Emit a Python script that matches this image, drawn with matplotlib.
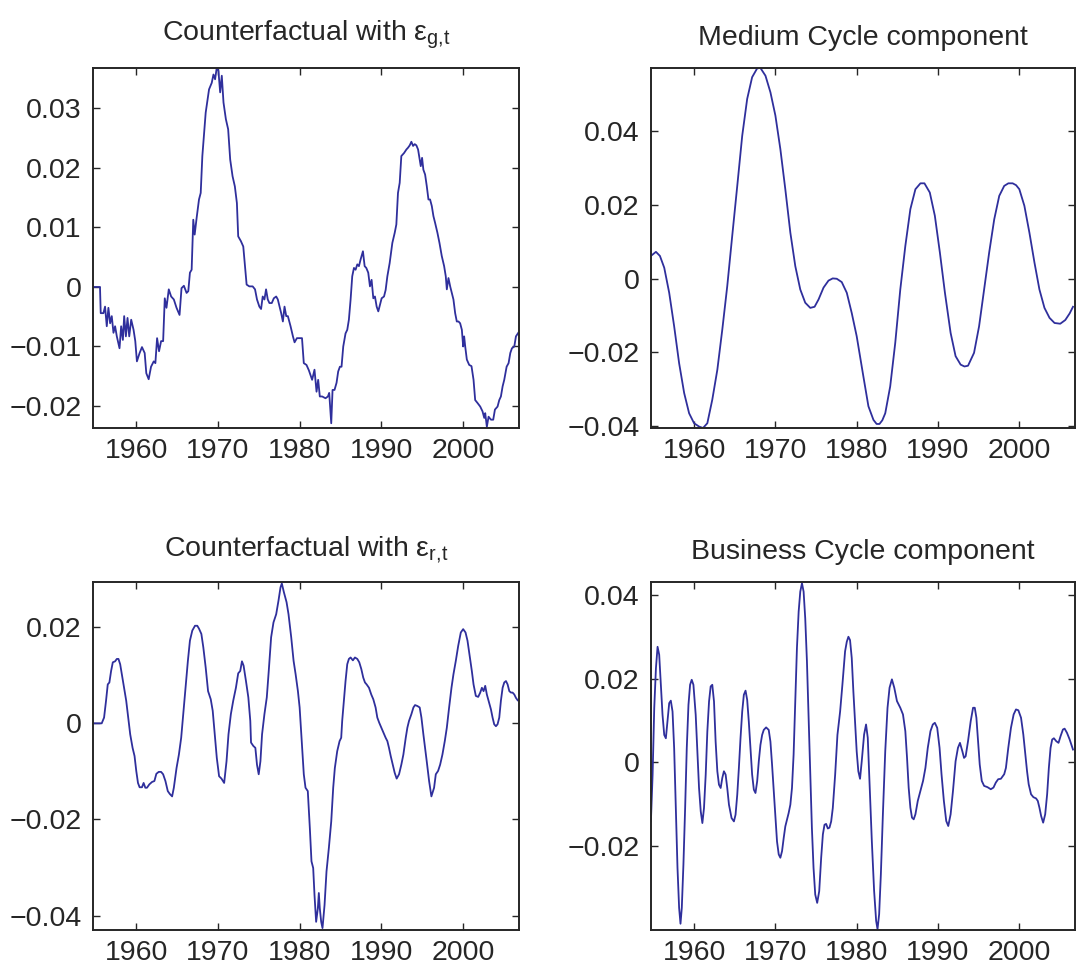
import matplotlib.pyplot as plt
from matplotlib.ticker import FuncFormatter

plt.rcParams["font.family"] = ["Liberation Sans", "DejaVu Sans"]
plt.rcParams["mathtext.fontset"] = "custom"
plt.rcParams["mathtext.rm"] = "Liberation Sans"
plt.rcParams["mathtext.it"] = "Liberation Sans:italic"

# ── data (quarterly-ish readings, year -> deviation) ─────────────────────

gov_years = [
    1954.66, 1955.56, 1955.65, 1955.98, 1956.18, 1956.39, 1956.59, 1956.80, 1957.00, 1957.21,
    1957.41, 1957.62, 1957.95, 1958.15, 1958.36, 1958.52, 1958.73, 1958.93, 1959.14, 1959.38,
    1959.67, 1959.88, 1960.08, 1960.41, 1960.70, 1961.03, 1961.23, 1961.52, 1961.81, 1962.14,
    1962.34, 1962.55, 1962.79, 1963.04, 1963.29, 1963.49, 1963.70, 1963.98, 1964.27, 1964.60,
    1964.93, 1965.30, 1965.54, 1965.83, 1966.16, 1966.37, 1966.57, 1966.78, 1966.98, 1967.15,
    1967.39, 1967.68, 1967.89, 1968.09, 1968.50, 1968.91, 1969.24, 1969.45, 1969.65, 1969.86,
    1970.06, 1970.27, 1970.47, 1970.68, 1970.97, 1971.25, 1971.50, 1971.79, 1972.07, 1972.32,
    1972.48, 1972.81, 1973.10, 1973.31, 1973.51, 1973.84, 1974.25, 1974.54, 1974.78, 1975.07,
    1975.28, 1975.48, 1975.69, 1975.89, 1976.10, 1976.30, 1976.59, 1976.84, 1977.13, 1977.33,
    1977.54, 1977.74, 1977.95, 1978.15, 1978.36, 1978.56, 1978.89, 1979.18, 1979.38, 1979.67,
    1980.00, 1980.29,
    1980.51, 1980.84, 1981.13, 1981.33, 1981.53, 1981.82, 1982.07, 1982.27, 1982.47, 1982.76,
    1983.17, 1983.46, 1983.62, 1983.78, 1983.87, 1984.03, 1984.27, 1984.52, 1984.72, 1984.93,
    1985.13, 1985.34, 1985.62, 1985.83, 1986.03, 1986.24, 1986.44, 1986.65, 1986.85, 1987.06,
    1987.26, 1987.46, 1987.75, 1987.96, 1988.16, 1988.40, 1988.61, 1988.81, 1989.02, 1989.22,
    1989.43, 1989.63, 1989.84, 1990.04, 1990.33, 1990.53, 1990.74, 1991.02, 1991.35, 1991.64,
    1991.84, 1992.04, 1992.25, 1992.45, 1992.78, 1993.07, 1993.27, 1993.48, 1993.68, 1993.89,
    1994.09, 1994.29, 1994.50, 1994.70, 1994.83, 1994.99, 1995.15, 1995.36, 1995.56, 1995.77,
    1995.97, 1996.18, 1996.38, 1996.58, 1996.87, 1997.12, 1997.40, 1997.69, 1997.89, 1998.02,
    1998.22, 1998.43, 1998.63, 1998.83, 1999.04, 1999.24, 1999.45, 1999.65, 1999.86, 2000.02,
    2000.14, 2000.27, 2000.47, 2000.76, 2001.04, 2001.29, 2001.49, 2001.78, 2002.11, 2002.39,
    2002.60, 2002.72, 2002.92, 2003.13, 2003.42, 2003.70, 2003.91, 2004.23, 2004.44, 2004.64,
    2004.85, 2005.05, 2005.34, 2005.58, 2005.79, 2005.99, 2006.28, 2006.48, 2006.77,
]
gov_values = [
    0.0, 0.0, -0.0044, -0.0044, -0.0033, -0.0066, -0.0035, -0.0061, -0.0049, -0.0077,
    -0.0066, -0.0083, -0.0103, -0.0066, -0.0089, -0.0049, -0.0083, -0.0052, -0.0083, -0.0055,
    -0.0072, -0.0091, -0.0125, -0.0111, -0.0101, -0.0111, -0.0145, -0.0155, -0.0134, -0.0125,
    -0.0128, -0.0086, -0.0108, -0.0091, -0.0091, -0.0019, -0.0035, -0.0004, -0.0016, -0.0021,
    -0.0035, -0.0047, -0.0002, 0.0002, -0.0010, -0.0007, 0.0024, 0.0029, 0.0113, 0.0088,
    0.0116, 0.0147, 0.0158, 0.0220, 0.0293, 0.0332, 0.0343, 0.0357, 0.0349, 0.0369,
    0.0363, 0.0327, 0.0355, 0.0310, 0.0282, 0.0265, 0.0214, 0.0186, 0.0169, 0.0141,
    0.0085, 0.0077, 0.0068, 0.0035, 0.0004, 0.0001, 0.0001, -0.0004, -0.0021, -0.0033,
    -0.0037, -0.0016, -0.0021, -0.0004, -0.0021, -0.0027, -0.0027, -0.0019, -0.0016, -0.0021,
    -0.0033, -0.0044, -0.0058, -0.0033, -0.0049, -0.0049, -0.0066, -0.0083, -0.0093, -0.0086,
    -0.0086, -0.0086,
    -0.0128, -0.0131, -0.0140, -0.0148, -0.0156, -0.0139, -0.0176, -0.0156, -0.0184, -0.0184,
    -0.0187, -0.0184, -0.0178, -0.0212, -0.0229, -0.0173, -0.0173, -0.0161, -0.0142, -0.0134,
    -0.0134, -0.0100, -0.0078, -0.0072, -0.0055, -0.0021, 0.0018, 0.0032, 0.0029, 0.0038,
    0.0035, 0.0046, 0.0060, 0.0035, 0.0032, 0.0024, 0.0001, 0.0012, -0.0019, -0.0016,
    -0.0033, -0.0041, -0.0030, -0.0019, -0.0016, -0.0005, 0.0018, 0.0040, 0.0074, 0.0091,
    0.0105, 0.0158, 0.0175, 0.0220, 0.0225, 0.0231, 0.0234, 0.0238, 0.0244, 0.0237,
    0.0240, 0.0238, 0.0231, 0.0214, 0.0203, 0.0217, 0.0197, 0.0189, 0.0170, 0.0147,
    0.0147, 0.0136, 0.0119, 0.0108, 0.0091, 0.0074, 0.0052, 0.0035, 0.0018, -0.0004,
    0.0015, 0.0001, -0.0010, -0.0021, -0.0044, -0.0058, -0.0058, -0.0061, -0.0072, -0.0100,
    -0.0083, -0.0100, -0.0122, -0.0131, -0.0133, -0.0156, -0.0190, -0.0195, -0.0201, -0.0209,
    -0.0220, -0.0212, -0.0235, -0.0218, -0.0223, -0.0223, -0.0206, -0.0201, -0.0190, -0.0184,
    -0.0167, -0.0156, -0.0134, -0.0128, -0.0111, -0.0103, -0.0100, -0.0083, -0.0077,
]

medium_years = [
    1954.69, 1955.31, 1955.80, 1956.33, 1956.94, 1957.55, 1958.16, 1958.78, 1959.39, 1960.00,
    1960.61, 1961.10, 1961.63, 1962.24, 1962.86, 1963.47, 1964.08, 1964.69, 1965.31, 1965.92,
    1966.53, 1967.14, 1967.76, 1968.16, 1968.78, 1969.39, 1970.00, 1970.61, 1971.22, 1971.84,
    1972.45, 1973.06, 1973.67, 1974.29, 1974.82, 1975.31, 1975.92, 1976.53, 1977.05, 1977.55,
    1978.16, 1978.78, 1979.39, 1980.00,
    1980.82, 1981.44, 1982.06, 1982.45, 1982.80, 1983.15, 1983.51, 1984.12, 1984.74, 1985.36,
    1985.98, 1986.60, 1987.22, 1987.84, 1988.33, 1988.99, 1989.61, 1990.23, 1990.85, 1991.55,
    1992.16, 1992.78, 1993.25, 1993.69, 1994.43, 1995.05, 1995.67, 1996.29, 1996.91, 1997.53,
    1998.14, 1998.65, 1999.18, 1999.60, 2000.00, 2000.62, 2001.24, 2001.86, 2002.47, 2003.09,
    2003.71, 2004.33, 2005.03, 2005.65, 2006.19, 2006.60,
]
medium_values = [
    0.0062, 0.0073, 0.0062, 0.0030, -0.0038, -0.0129, -0.0229, -0.0310, -0.0365, -0.0392,
    -0.0401, -0.0405, -0.0392, -0.0328, -0.0247, -0.0138, -0.0020, 0.0116, 0.0252, 0.0388,
    0.0488, 0.0547, 0.0571, 0.0572, 0.0551, 0.0506, 0.0443, 0.0352, 0.0243, 0.0125,
    0.0034, -0.0029, -0.0065, -0.0079, -0.0076, -0.0056, -0.0024, -0.0005, 0.0001, 0.0000,
    -0.0009, -0.0038, -0.0093, -0.0156,
    -0.0265, -0.0346, -0.0383, -0.0394, -0.0394, -0.0384, -0.0365, -0.0292, -0.0174, -0.0029,
    0.0089, 0.0189, 0.0243, 0.0259, 0.0259, 0.0234, 0.0171, 0.0071, -0.0038, -0.0147,
    -0.0210, -0.0233, -0.0238, -0.0236, -0.0201, -0.0129, -0.0029, 0.0071, 0.0161, 0.0225,
    0.0252, 0.0259, 0.0259, 0.0254, 0.0243, 0.0198, 0.0125, 0.0044, -0.0029, -0.0079,
    -0.0106, -0.0120, -0.0122, -0.0112, -0.0094, -0.0076,
]

rate_years = [
    1954.66, 1955.77, 1956.06, 1956.30, 1956.51, 1956.71, 1956.92, 1957.13, 1957.41, 1957.62,
    1957.82, 1958.03, 1958.23, 1958.44, 1958.77, 1959.06, 1959.26, 1959.55, 1959.79, 1960.00,
    1960.21, 1960.41, 1960.70, 1960.90, 1961.11, 1961.31, 1961.60, 1961.93, 1962.22, 1962.46,
    1962.75, 1963.04, 1963.29, 1963.57, 1963.86, 1964.11, 1964.39, 1964.60, 1964.93, 1965.22,
    1965.50, 1965.75, 1966.04, 1966.32, 1966.57, 1966.86, 1967.19, 1967.47, 1967.68, 1967.97,
    1968.21, 1968.50, 1968.79, 1969.12, 1969.36, 1969.61, 1969.86, 1970.14, 1970.43, 1970.76,
    1971.05, 1971.29, 1971.58, 1971.87, 1972.20, 1972.48, 1972.73, 1972.94, 1973.14, 1973.43,
    1973.72, 1973.96, 1974.05, 1974.33, 1974.58, 1974.78, 1974.99, 1975.20, 1975.40, 1975.69,
    1975.98, 1976.22, 1976.51, 1976.80, 1977.13, 1977.41, 1977.66, 1977.82, 1978.07, 1978.40,
    1978.64, 1978.97, 1979.26, 1979.51, 1979.79, 1980.00,
    1980.51, 1980.72, 1981.00, 1981.25, 1981.45, 1981.66, 1981.82, 1982.02, 1982.23, 1982.35,
    1982.47, 1982.64, 1982.80, 1983.05, 1983.29, 1983.58, 1983.87, 1984.11, 1984.31, 1984.60,
    1984.89, 1985.09, 1985.21, 1985.42, 1985.62, 1985.83, 1986.03, 1986.24, 1986.52, 1986.77,
    1987.06, 1987.30, 1987.55, 1987.79, 1988.00, 1988.20, 1988.49, 1988.77, 1989.02, 1989.30,
    1989.51, 1989.75, 1990.00, 1990.25, 1990.53, 1990.74, 1990.94, 1991.15, 1991.35, 1991.64,
    1991.88, 1992.17, 1992.45, 1992.70, 1992.99, 1993.19, 1993.39, 1993.68, 1993.93, 1994.13,
    1994.42, 1994.70, 1994.91, 1995.15, 1995.36, 1995.56, 1995.85, 1996.13, 1996.46, 1996.67,
    1996.95, 1997.20, 1997.48, 1997.77, 1998.02, 1998.30, 1998.59, 1998.83, 1999.12, 1999.41,
    1999.73, 2000.02, 2000.31, 2000.55, 2000.84, 2001.08, 2001.29, 2001.57, 2001.86, 2002.11,
    2002.31, 2002.52, 2002.72, 2002.92, 2003.13, 2003.42, 2003.62, 2003.82, 2004.03, 2004.23,
    2004.44, 2004.64, 2004.85, 2005.05, 2005.26, 2005.46, 2005.67, 2005.87, 2006.07, 2006.28,
    2006.48, 2006.69,
]
rate_values = [
    0.0, 0.0, 0.0012, 0.0047, 0.0081, 0.0085, 0.0109, 0.0127, 0.0129, 0.0134,
    0.0134, 0.0123, 0.0102, 0.0081, 0.0047, 0.0005, -0.0023, -0.0051, -0.0068, -0.0099,
    -0.0124, -0.0133, -0.0133, -0.0124, -0.0134, -0.0134, -0.0127, -0.0122, -0.0120, -0.0105,
    -0.0101, -0.0101, -0.0106, -0.0120, -0.0141, -0.0147, -0.0152, -0.0134, -0.0093, -0.0065,
    -0.0030, 0.0019, 0.0074, 0.0130, 0.0172, 0.0193, 0.0203, 0.0203, 0.0197, 0.0186,
    0.0158, 0.0116, 0.0067, 0.0050, 0.0026, -0.0023, -0.0072, -0.0110, -0.0115, -0.0124,
    -0.0079, -0.0023, 0.0019, 0.0047, 0.0074, 0.0104, 0.0109, 0.0129, 0.0120, 0.0088,
    0.0054, 0.0005, -0.0040, -0.0047, -0.0051, -0.0086, -0.0106, -0.0079, -0.0023, 0.0019,
    0.0054, 0.0109, 0.0179, 0.0210, 0.0227, 0.0255, 0.0283, 0.0291, 0.0273, 0.0252,
    0.0227, 0.0179, 0.0130, 0.0102, 0.0067, 0.0033,
    -0.0106, -0.0134, -0.0141, -0.0218, -0.0287, -0.0301, -0.0357, -0.0413, -0.0385, -0.0353,
    -0.0385, -0.0413, -0.0426, -0.0378, -0.0308, -0.0259, -0.0204, -0.0134, -0.0093, -0.0058,
    -0.0037, -0.0030, 0.0005, 0.0047, 0.0088, 0.0123, 0.0134, 0.0137, 0.0131, 0.0137,
    0.0134, 0.0127, 0.0113, 0.0095, 0.0085, 0.0081, 0.0074, 0.0060, 0.0050, 0.0033,
    0.0012, 0.0001, -0.0009, -0.0019, -0.0030, -0.0037, -0.0051, -0.0068, -0.0082, -0.0103,
    -0.0115, -0.0106, -0.0086, -0.0065, -0.0030, -0.0009, 0.0005, 0.0019, 0.0033, 0.0038,
    0.0036, 0.0033, 0.0012, -0.0023, -0.0051, -0.0079, -0.0120, -0.0152, -0.0134, -0.0106,
    -0.0099, -0.0086, -0.0065, -0.0037, -0.0009, 0.0033, 0.0074, 0.0102, 0.0130, 0.0161,
    0.0189, 0.0196, 0.0189, 0.0172, 0.0137, 0.0109, 0.0081, 0.0057, 0.0055, 0.0064,
    0.0074, 0.0067, 0.0078, 0.0060, 0.0047, 0.0029, 0.0012, -0.0002, -0.0006, -0.0002,
    0.0012, 0.0047, 0.0074, 0.0085, 0.0088, 0.0081, 0.0067, 0.0064, 0.0064, 0.0060,
    0.0053, 0.0048,
]

business_years = [
    1954.69, 1954.90, 1955.10, 1955.31, 1955.51, 1955.71, 1955.92, 1956.12, 1956.33, 1956.53,
    1956.73, 1956.94, 1957.14, 1957.35, 1957.55, 1957.76, 1957.96, 1958.16, 1958.33, 1958.49,
    1958.69, 1958.90, 1959.10, 1959.31, 1959.51, 1959.71, 1959.92, 1960.20, 1960.41, 1960.61,
    1960.82, 1961.02, 1961.22, 1961.43, 1961.63, 1961.84, 1962.04, 1962.24, 1962.45, 1962.65,
    1962.86, 1963.06, 1963.27, 1963.47, 1963.67, 1963.88, 1964.08, 1964.29, 1964.61, 1964.90,
    1965.10, 1965.31, 1965.51, 1965.71, 1965.92, 1966.12, 1966.33, 1966.53, 1966.73, 1966.94,
    1967.14, 1967.35, 1967.55, 1967.76, 1967.96, 1968.16, 1968.37, 1968.57, 1968.86, 1969.18,
    1969.39, 1969.59, 1969.80, 1970.00, 1970.20, 1970.41, 1970.61, 1970.82, 1971.02, 1971.22,
    1971.43, 1971.63, 1971.84, 1972.04, 1972.24, 1972.45, 1972.65, 1972.86, 1973.06, 1973.27,
    1973.47, 1973.67, 1973.88, 1974.08, 1974.29, 1974.49, 1974.69, 1974.90, 1975.14, 1975.39,
    1975.63, 1975.84, 1976.04, 1976.24, 1976.45, 1976.65, 1976.86, 1977.06, 1977.35, 1977.63,
    1977.96, 1978.24, 1978.57, 1978.78, 1978.98, 1979.18, 1979.39, 1979.59, 1979.80, 1980.00,
    1980.20, 1980.41,
    1980.62, 1980.91, 1981.15, 1981.36, 1981.57, 1981.86, 1982.14, 1982.39, 1982.56, 1982.76,
    1982.97, 1983.22, 1983.51, 1983.79, 1984.04, 1984.33, 1984.62, 1984.95, 1985.36, 1985.69,
    1985.98, 1986.19, 1986.39, 1986.60, 1986.80, 1987.01, 1987.22, 1987.51, 1987.84, 1988.16,
    1988.45, 1988.74, 1989.07, 1989.36, 1989.61, 1989.90, 1990.19, 1990.43, 1990.72, 1991.01,
    1991.26, 1991.55, 1991.84, 1992.16, 1992.45, 1992.70, 1992.99, 1993.20, 1993.40, 1993.69,
    1994.02, 1994.31, 1994.52, 1994.72, 1994.93, 1995.13, 1995.38, 1995.67, 1996.08, 1996.49,
    1996.82, 1997.11, 1997.40, 1997.73, 1998.14, 1998.35, 1998.64, 1998.97, 1999.30, 1999.59,
    1999.88, 2000.21, 2000.49, 2000.70, 2000.95, 2001.15, 2001.44, 2001.73, 2002.06, 2002.27,
    2002.47, 2002.68, 2002.93, 2003.18, 2003.42, 2003.63, 2003.84, 2004.04, 2004.25, 2004.54,
    2004.82, 2005.07, 2005.36, 2005.57, 2005.86, 2006.19, 2006.47, 2006.60,
]
business_values = [
    -0.0142, -0.0030, 0.0129, 0.0225, 0.0276, 0.0257, 0.0185, 0.0113, 0.0065, 0.0057,
    0.0097, 0.0141, 0.0147, 0.0121, 0.0033, -0.0110, -0.0253, -0.0349, -0.0387, -0.0349,
    -0.0245, -0.0110, 0.0033, 0.0137, 0.0185, 0.0197, 0.0185, 0.0113, 0.0025, -0.0062,
    -0.0118, -0.0146, -0.0110, -0.0030, 0.0073, 0.0145, 0.0181, 0.0185, 0.0145, 0.0049,
    -0.0022, -0.0054, -0.0062, -0.0038, -0.0022, -0.0030, -0.0062, -0.0102, -0.0134, -0.0142,
    -0.0126, -0.0078, -0.0014, 0.0057, 0.0121, 0.0161, 0.0171, 0.0149, 0.0097, 0.0033,
    -0.0030, -0.0066, -0.0074, -0.0046, 0.0002, 0.0041, 0.0065, 0.0077, 0.0083, 0.0077,
    0.0049, -0.0006, -0.0070, -0.0134, -0.0190, -0.0221, -0.0229, -0.0213, -0.0182, -0.0154,
    -0.0138, -0.0122, -0.0102, -0.0062, 0.0018, 0.0145, 0.0273, 0.0360, 0.0408, 0.0428,
    0.0408, 0.0344, 0.0241, 0.0113, -0.0030, -0.0158, -0.0253, -0.0317, -0.0337, -0.0309,
    -0.0229, -0.0173, -0.0150, -0.0148, -0.0159, -0.0157, -0.0142, -0.0110, -0.0030, 0.0065,
    0.0121, 0.0185, 0.0265, 0.0288, 0.0300, 0.0292, 0.0249, 0.0169, 0.0097, 0.0025,
    -0.0022, -0.0040,
    0.0002, 0.0066, 0.0090, 0.0058, -0.0045, -0.0189, -0.0308, -0.0380, -0.0400, -0.0364,
    -0.0269, -0.0125, 0.0026, 0.0130, 0.0178, 0.0198, 0.0178, 0.0146, 0.0130, 0.0114,
    0.0074, 0.0010, -0.0061, -0.0109, -0.0133, -0.0137, -0.0125, -0.0093, -0.0069, -0.0045,
    -0.0014, 0.0034, 0.0074, 0.0090, 0.0094, 0.0082, 0.0034, -0.0029, -0.0093, -0.0141,
    -0.0153, -0.0125, -0.0069, 0.0002, 0.0034, 0.0046, 0.0026, 0.0010, 0.0014, 0.0050,
    0.0098, 0.0130, 0.0130, 0.0106, 0.0050, -0.0006, -0.0045, -0.0057, -0.0060, -0.0065,
    -0.0061, -0.0049, -0.0041, -0.0040, -0.0029, -0.0014, 0.0034, 0.0082, 0.0114, 0.0126,
    0.0124, 0.0106, 0.0066, 0.0026, -0.0022, -0.0053, -0.0077, -0.0084, -0.0087, -0.0093,
    -0.0109, -0.0129, -0.0145, -0.0125, -0.0077, -0.0014, 0.0034, 0.0054, 0.0057, 0.0050,
    0.0046, 0.0062, 0.0078, 0.0080, 0.0070, 0.0054, 0.0038, 0.0030,
]

year_ticks = [1960, 1970, 1980, 1990, 2000]

LINE_COLOR = "#2f2f9c"
INK = "#262626"


def tick_label(v: float, _pos) -> str:
    if abs(v) < 1e-12:
        return "0"
    return f"{v:.2f}".replace("-", "\u2212")


def draw_panel(ax, years, values, title, ylim, yticks) -> None:
    assert len(years) == len(values)
    ax.plot(years, values, color=LINE_COLOR, linewidth=1.3)
    ax.set_xlim(1954.7, 2006.85)
    ax.set_ylim(*ylim)
    ax.set_xticks(year_ticks)
    ax.set_yticks(yticks)
    ax.yaxis.set_major_formatter(FuncFormatter(tick_label))
    ax.tick_params(direction="in", top=True, right=True, length=5,
                   width=1, colors=INK, labelsize=20.5)
    ax.tick_params(axis="x", pad=7)
    ax.tick_params(axis="y", pad=8)
    for spine in ax.spines.values():
        spine.set_linewidth(1.4)
        spine.set_color(INK)
    ax.set_title(title, fontsize=20.5, color=INK, pad=12, va="bottom")


# ── layout ────────────────────────────────────────────────────────────────

fig = plt.figure(figsize=(10.76, 9.71), dpi=100)

ax_gov = fig.add_axes([0.0864, 0.5592, 0.3959, 0.3708])
ax_med = fig.add_axes([0.6050, 0.5592, 0.3941, 0.3708])
ax_rate = fig.add_axes([0.0864, 0.0422, 0.3959, 0.3584])
ax_bus = fig.add_axes([0.6050, 0.0422, 0.3941, 0.3584])

draw_panel(ax_gov, gov_years, gov_values,
           "Counterfactual with \u03b5$_{\\mathrm{g{,}t}}$",
           (-0.0237, 0.0368), [-0.02, -0.01, 0, 0.01, 0.02, 0.03])
draw_panel(ax_med, medium_years, medium_values,
           "Medium Cycle component",
           (-0.0405, 0.0572), [-0.04, -0.02, 0, 0.02, 0.04])
draw_panel(ax_rate, rate_years, rate_values,
           "Counterfactual with \u03b5$_{\\mathrm{r{,}t}}$",
           (-0.0430, 0.0294), [-0.04, -0.02, 0, 0.02])
draw_panel(ax_bus, business_years, business_values,
           "Business Cycle component",
           (-0.0402, 0.0431), [-0.02, 0, 0.02, 0.04])

fig.savefig("out.png", dpi=100)
